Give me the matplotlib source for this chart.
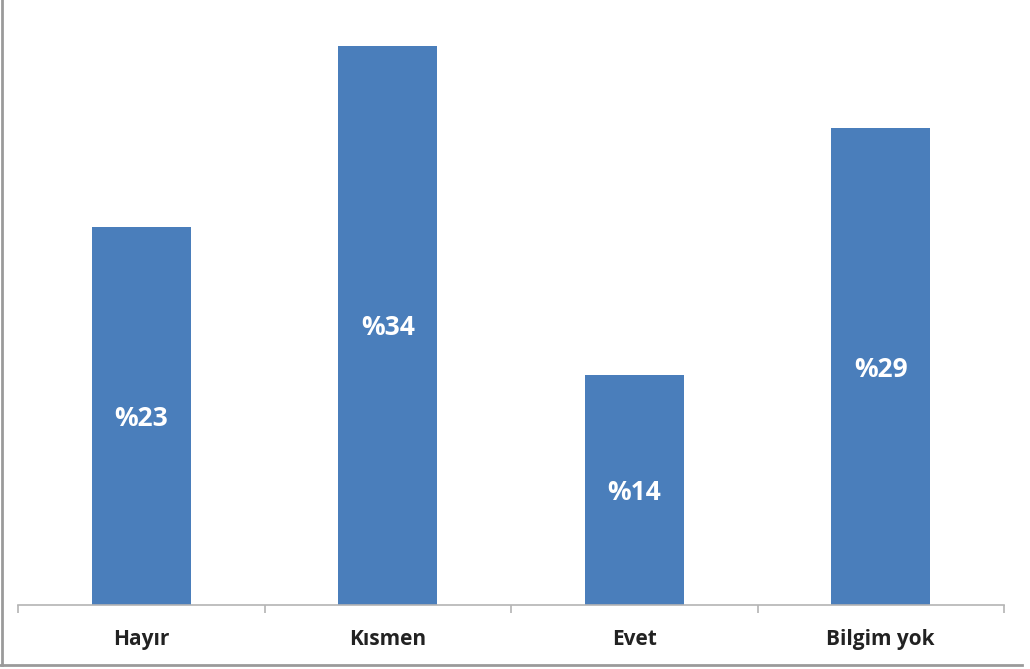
import matplotlib
matplotlib.use("Agg")
from matplotlib import pyplot as plt
from matplotlib.lines import Line2D

# survey answers and their shares (%)
categories = ["Hayır", "Kısmen", "Evet", "Bilgim yok"]
values = [23, 34, 14, 29]
value_labels = ["%23", "%34", "%14", "%29"]

bar_color = "#4a7ebb"
axis_color = "#b4b4b4"

fig = plt.figure(figsize=(10.3, 6.69), dpi=100)
ax = fig.add_axes([18/1030, (669-605)/669, (1004-18)/1030, 605/669])

x = list(range(len(categories)))
bars = ax.bar(x, values, width=0.4, color=bar_color, zorder=2)

for rect, lab in zip(bars, value_labels):
    ax.text(rect.get_x() + rect.get_width()/2, rect.get_height()/2 - 0.15, lab,
            ha="center", va="center", color="white", fontsize=19,
            fontweight="bold", family="Open Sans")

ax.set_xlim(-0.5, len(categories) - 0.5)
ax.set_ylim(0, 36.8)

for s in ["top", "right", "left"]:
    ax.spines[s].set_visible(False)
ax.spines["bottom"].set_color(axis_color)
ax.spines["bottom"].set_linewidth(1.2)
ax.set_yticks([])

# category boundaries get the tick marks, names sit in between
ax.set_xticks([i - 0.5 for i in range(len(categories) + 1)])
ax.set_xticklabels([])
ax.tick_params(axis="x", direction="out", length=6, width=1.2, color=axis_color)
ax.set_xticks(x, minor=True)
ax.set_xticklabels(categories, minor=True, fontsize=15, fontweight="bold",
                   family="Open Sans", color="#222222")
ax.tick_params(axis="x", which="minor", length=0, pad=17)

# thin frame on the left and bottom edges
fig.add_artist(Line2D([2/1030, 2/1030], [4/669, 1], transform=fig.transFigure,
                      color="#9a9a9a", lw=2))
fig.add_artist(Line2D([0, 1022/1030], [4/669, 4/669], transform=fig.transFigure,
                      color="#9a9a9a", lw=2))

fig.savefig("out.png", dpi=100, facecolor="white")
